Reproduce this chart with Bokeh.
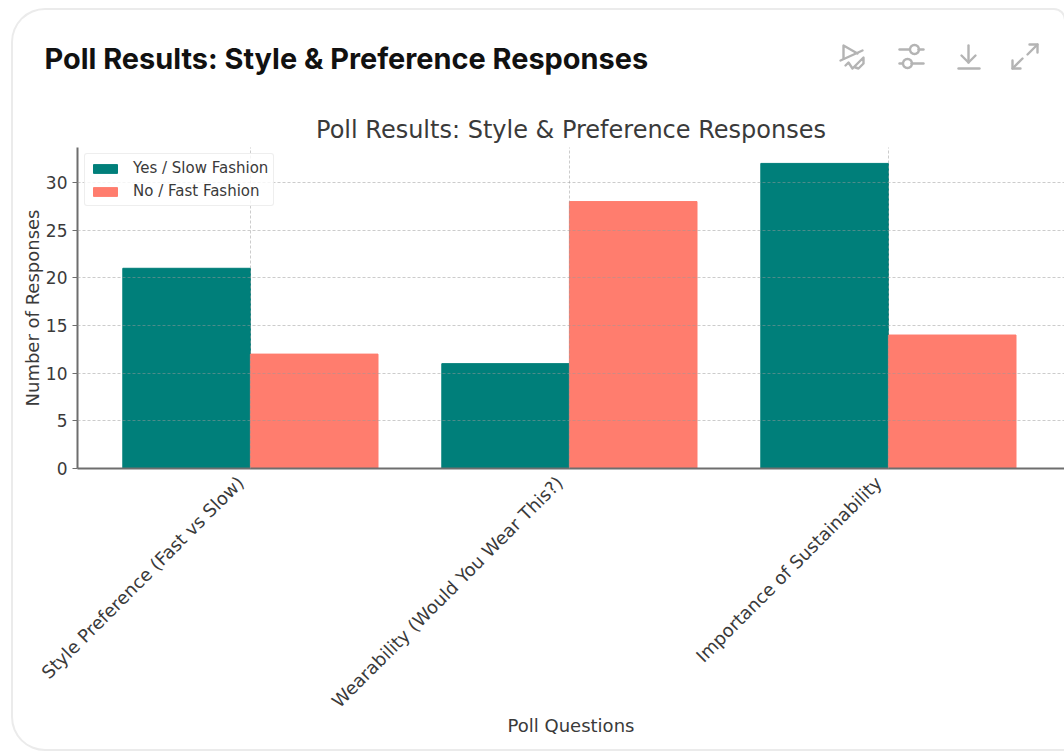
import numpy as np
from bokeh.embed import file_html
from bokeh.layouts import column
from bokeh.resources import INLINE
from bokeh.plotting import figure
from bokeh.models import FixedTicker, Label, Legend, LegendItem, Range1d

CATEGORIES = ["Style Preference (Fast vs Slow)",
              "Wearability (Would You Wear This?)",
              "Importance of Sustainability"]
YES_SLOW = [21, 11, 32]
NO_FAST = [12, 28, 14]
Y_TICKS = [0, 5, 10, 15, 20, 25, 30]
CARD_TITLE = "Poll Results: Style & Preference Responses"
CHART_TITLE = "Poll Results: Style & Preference Responses"
X_LABEL = "Poll Questions"
Y_LABEL = "Number of Responses"
TEAL = "#007f7a"
CORAL = "#ff7d6e"
TEXT = "#3a3a3a"
AXIS = "#6e6e6e"
ICON = "#b4b4b4"
BAR_WIDTH = 0.4
LABEL_SHIFT = 0.031

# Card area on the page: it starts 13px in and 10px down
CARD_LEFT, CARD_TOP, CARD_BOTTOM, PAGE_RIGHT = 13, 10, 749, 1064
HEADER_BOTTOM = 95
FRAME_LEFT, FRAME_TOP, FRAME_BOTTOM = 77, 147, 468

positions = list(range(len(CATEGORIES)))

# Header strip: its data coordinates are simply page pixels
header = figure(width=PAGE_RIGHT - CARD_LEFT, height=HEADER_BOTTOM - CARD_TOP,
                output_backend="svg", toolbar_location=None,
                x_range=Range1d(CARD_LEFT, PAGE_RIGHT),
                y_range=Range1d(HEADER_BOTTOM, CARD_TOP),
                x_axis_location=None, y_axis_location=None,
                min_border=0, outline_line_color=None, frame_align=False,
                background_fill_alpha=0, border_fill_alpha=0)
header.grid.visible = False
header.add_layout(Label(x=44, y=58, text=CARD_TITLE, text_font="Inter",
                        text_font_style="bold", text_font_size="28.9px",
                        text_color="#111111", text_baseline="middle"))


def icon_stroke(xs, ys):
    header.line(list(xs), list(ys), line_color=ICON, line_width=2.4, line_cap="round",
                line_join="round")


def ring(cx, cy, r):
    t = np.linspace(0, 2 * np.pi, 25)
    icon_stroke(cx + r * np.cos(t), cy + r * np.sin(t))


# Chart-off icon
icon_stroke([857, 843, 843], [53, 45, 58])
icon_stroke([840, 862], [60, 50])
icon_stroke([845, 848, 852, 855, 863, 863, 858, 855], [65, 62, 68, 65, 57, 63, 68, 67])
# Sliders icon
icon_stroke([899, 909], [49, 49])
icon_stroke([918, 923], [49, 49])
ring(914, 49, 4.5)
icon_stroke([899, 902], [63, 63])
icon_stroke([911, 923], [63, 63])
ring(907, 63, 4.5)
# Download icon
icon_stroke([968, 968], [45, 62])
icon_stroke([961, 968, 975], [55, 62, 55])
icon_stroke([958, 979], [68, 68])
# Expand icon
icon_stroke([1027, 1037], [54, 44])
icon_stroke([1029, 1037, 1037], [44, 44, 52])
icon_stroke([1012, 1022], [68, 58])
icon_stroke([1012, 1012, 1020], [60, 68, 68])

# Grouped bar chart
p = figure(width=PAGE_RIGHT - CARD_LEFT, height=CARD_BOTTOM - HEADER_BOTTOM,
           output_backend="svg", toolbar_location=None,
           x_range=Range1d(-0.542, 2.552), y_range=Range1d(0, 33.67),
           min_border_left=FRAME_LEFT - CARD_LEFT, min_border_right=0,
           min_border_top=FRAME_TOP - HEADER_BOTTOM,
           min_border_bottom=CARD_BOTTOM - FRAME_BOTTOM, frame_align=False,
           outline_line_color=None, background_fill_alpha=0, border_fill_alpha=0)

p.title.text = CHART_TITLE
p.title.align = "center"
p.title.text_font = "DejaVu Sans"
p.title.text_font_size = "24px"
p.title.text_font_style = "normal"
p.title.text_color = TEXT
p.title.standoff = 8

yes_bars = p.vbar(x=[i - BAR_WIDTH / 2 for i in positions], top=YES_SLOW,
                  width=BAR_WIDTH, color=TEAL)
no_bars = p.vbar(x=[i + BAR_WIDTH / 2 for i in positions], top=NO_FAST,
                 width=BAR_WIDTH, color=CORAL)

# Slanted category labels end just left of each group's centre
label_ticks = [i - LABEL_SHIFT for i in positions]
p.xaxis.ticker = FixedTicker(ticks=label_ticks)
p.xaxis.major_label_overrides = dict(zip(label_ticks, CATEGORIES))
p.xaxis.major_label_orientation = np.pi / 4
p.xaxis.major_label_text_font = "DejaVu Sans"
p.xaxis.major_label_text_font_size = "18px"
p.xaxis.major_label_text_color = TEXT
p.xaxis.major_tick_line_color = None
p.xaxis.minor_tick_line_color = None
p.xaxis.axis_line_color = AXIS
p.xaxis.axis_line_width = 2
p.xaxis.axis_label = X_LABEL
p.xaxis.axis_label_text_font = "DejaVu Sans"
p.xaxis.axis_label_text_font_size = "18px"
p.xaxis.axis_label_text_font_style = "normal"
p.xaxis.axis_label_text_color = TEXT
p.xaxis.axis_label_standoff = -7

p.yaxis.ticker = FixedTicker(ticks=Y_TICKS)
p.yaxis.major_label_text_font = "DejaVu Sans"
p.yaxis.major_label_text_font_size = "17px"
p.yaxis.major_label_text_color = TEXT
p.yaxis.major_tick_in = 0
p.yaxis.major_tick_out = 5
p.yaxis.major_tick_line_color = AXIS
p.yaxis.minor_tick_line_color = None
p.yaxis.axis_line_color = AXIS
p.yaxis.axis_line_width = 2
p.yaxis.axis_label = Y_LABEL
p.yaxis.axis_label_text_font = "DejaVu Sans"
p.yaxis.axis_label_text_font_size = "18px"
p.yaxis.axis_label_text_font_style = "normal"
p.yaxis.axis_label_text_color = TEXT
p.yaxis.axis_label_standoff = 0

# Dashed grid sits above the bars
for grid in (p.xgrid, p.ygrid):
    grid.level = "annotation"
    grid.grid_line_color = "#9a9a9a"
    grid.grid_line_alpha = 0.5
    grid.grid_line_dash = "3 2"
    grid.grid_line_width = 1
p.xgrid.ticker = FixedTicker(ticks=positions)
p.ygrid.ticker = FixedTicker(ticks=Y_TICKS)

legend = Legend(items=[LegendItem(label="Yes / Slow Fashion", renderers=[yes_bars]),
                       LegendItem(label="No / Fast Fashion", renderers=[no_bars])],
                location=(7, 262), margin=0, padding=5, spacing=5,
                label_text_font="DejaVu Sans", label_text_font_size="15px",
                label_text_color=TEXT, glyph_width=30, glyph_height=11,
                label_standoff=13, border_line_color="#dddddd", border_radius=3,
                background_fill_alpha=0.8)
p.add_layout(legend, "center")

# The card outline is a shadow ring, so it takes no room from the charts
card = column(header, p, margin=(CARD_TOP, 0, 0, CARD_LEFT), spacing=0,
              styles={"box-shadow": "0 0 0 2px #ebebeb",
                      "border-radius": "32px 10px 0 32px",
                      "background": "white"})

open("out.html", "w").write(file_html(card, INLINE))
